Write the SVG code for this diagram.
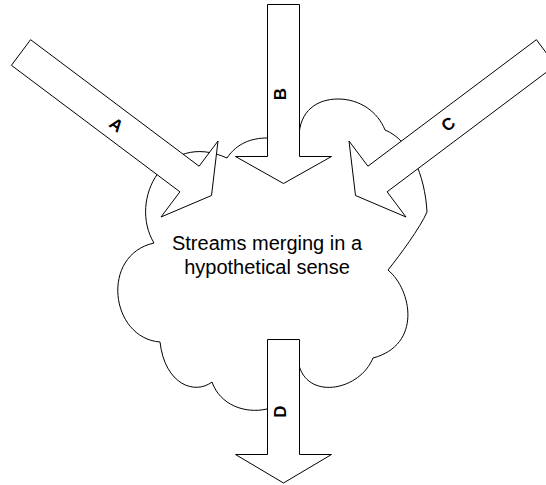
<svg xmlns="http://www.w3.org/2000/svg" width="546" height="485" viewBox="0 0 546 485">
  <style>
    .shape { fill: #ffffff; stroke: #000000; stroke-width: 1; stroke-linejoin: miter; }
    .body { font-family: "Liberation Sans", Arial, sans-serif; font-size: 20px; fill: #000000; text-anchor: middle; }
    .tag { font-family: "Liberation Sans", Arial, sans-serif; font-size: 17px; font-weight: bold; fill: #000000; text-anchor: middle; }
  </style>
  <rect width="546" height="485" fill="#ffffff"/>

  <!-- merging cloud, drawn beneath the stream arrows -->
  <g id="cloud">
    <path class="shape" d="M154,243 C128,200 165,130 227,158 C237,143 252,138 267,138 L299,138 C299,110 318,99 338,99 C360,99 378,112 385,130 C410,140 425,175 427,212 C420,228 400,255 388,270 C412,290 422,345 373,358 C360,390 310,400 299.5,367 L283,390 L267,409 C245,414 220,405 212,382 C195,395 165,385 160,342 C110,338 100,255 154,243 Z"/>
    <text class="body" x="267" y="250">Streams merging in a</text>
    <text class="body" x="267" y="274">hypothetical sense</text>
  </g>

  <!-- block arrows for the streams -->
  <g id="streams">
    <g id="arrow-a">
      <polygon class="shape" points="30.6,39.7 199.1,166.2 218,141 211.5,195.5 161,217 179.9,191.8 11.4,65.3"/>
      <g transform="translate(116.7,124.5) rotate(36.87)">
        <text class="tag" x="0" y="6.1">A</text>
      </g>
    </g>
    <g id="arrow-b">
      <polygon class="shape" points="267.5,4.5 299.5,4.5 299.5,156.5 331.5,156.5 283.5,183.5 235.5,156.5 267.5,156.5"/>
      <g transform="translate(279.5,94) rotate(-90)">
        <text class="tag" x="0" y="6.1">B</text>
      </g>
    </g>
    <g id="arrow-c">
      <polygon class="shape" points="536.4,39.7 367.9,166.2 349,141 355.5,195.5 406,217 387.1,191.8 555.6,65.3"/>
      <g transform="translate(448,124) rotate(-36.87)">
        <text class="tag" x="0" y="6.1">C</text>
      </g>
    </g>
    <g id="arrow-d">
      <polygon class="shape" points="267.5,339.5 299.5,339.5 299.5,454.5 331.5,454.5 283.5,483 235.5,454.5 267.5,454.5"/>
      <g transform="translate(279.5,411.5) rotate(-90)">
        <text class="tag" x="0" y="6.1">D</text>
      </g>
    </g>
  </g>
</svg>
